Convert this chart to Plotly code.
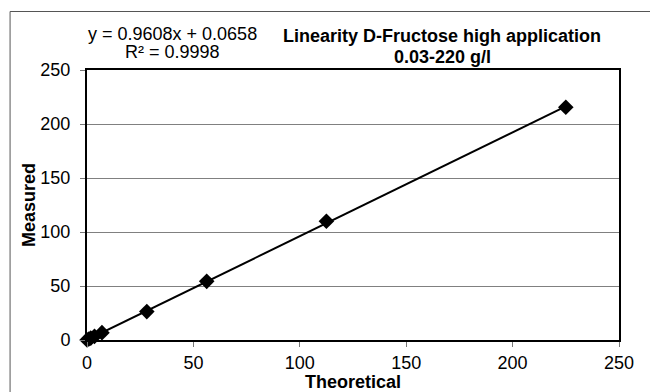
import plotly.graph_objects as go

# Data
theoretical = [0.03, 0.88, 1.76, 3.52, 7.03, 28.1, 56.25, 112.5, 225.0]
measured = [0.1, 0.9, 1.75, 3.4, 6.8, 26.3, 54.3, 110.0, 215.5]

# Trendline as stated on the chart
slope = 0.9608
intercept = 0.0658
trend_x = [min(theoretical), max(theoretical)]
trend_y = [slope * v + intercept for v in trend_x]

tick_vals = [0, 50, 100, 150, 200, 250]

FONT = "Liberation Sans, Arial, Helvetica, sans-serif"

# pixel geometry helpers (plot area: x 86.5..619, y 70..340)
L, R, T, B = 86.5, 619.0, 70.0, 340.0
def px(x):
    return (x - L) / (R - L)
def py(y):
    return (B - y) / (B - T)

fig = go.Figure()

fig.add_trace(go.Scatter(
    x=trend_x, y=trend_y, mode="lines",
    line=dict(color="black", width=2),
    showlegend=False, hoverinfo="skip", cliponaxis=False,
))
fig.add_trace(go.Scatter(
    x=theoretical, y=measured, mode="markers",
    marker=dict(symbol="diamond", size=12, color="black"),
    showlegend=False, cliponaxis=False,
))

axis_common = dict(
    range=[0, 250], tickvals=tick_vals, ticktext=[str(v) for v in tick_vals],
    showline=True, linecolor="black", linewidth=2, mirror=True,
    ticks="outside", ticklen=5, tickcolor="#777", tickwidth=1,
    tickfont=dict(family=FONT, size=18, color="black"),
    zeroline=False, automargin=False,
)

fig.update_xaxes(
    **axis_common, showgrid=False,
    title=dict(text="<b>Theoretical</b>", font=dict(family=FONT, size=18, color="black"), standoff=2),
)
fig.update_yaxes(
    **axis_common, showgrid=True, gridcolor="#808080", gridwidth=1,
    title=dict(text="<b>Measured</b>", font=dict(family=FONT, size=18, color="black"), standoff=0),
    ticklabelstandoff=6,
)

annos = [
    ("y = 0.9608x + 0.0658", 172, 34, False),
    ("R² = 0.9998", 172, 52, False),
    ("Linearity D-Fructose high application", 442, 36, True),
    ("0.03-220 g/l", 442, 57, True),
]
for text, ax_, ay_, bold in annos:
    fig.add_annotation(
        text=f"<b>{text}</b>" if bold else text,
        xref="paper", yref="paper", x=px(ax_), y=py(ay_),
        xanchor="center", yanchor="middle", showarrow=False,
        font=dict(family=FONT, size=18, color="black"),
    )

# outer chart-area border (extends past the right and bottom edges)
fig.add_shape(
    type="rect", xref="paper", yref="paper",
    x0=px(9.5), x1=px(700), y0=py(460), y1=py(11.5),
    line=dict(color="#555", width=1), fillcolor="rgba(0,0,0,0)", layer="below",
)

fig.update_layout(
    width=650, height=392,
    margin=dict(l=L, r=650 - R, t=T, b=392 - B),
    paper_bgcolor="white", plot_bgcolor="white",
    font=dict(family=FONT, size=18, color="black"),
)

fig.write_html(
    "out.html",
    config={"displayModeBar": False},
    post_script="document.body.style.margin='0';document.body.style.overflow='hidden';",
)
